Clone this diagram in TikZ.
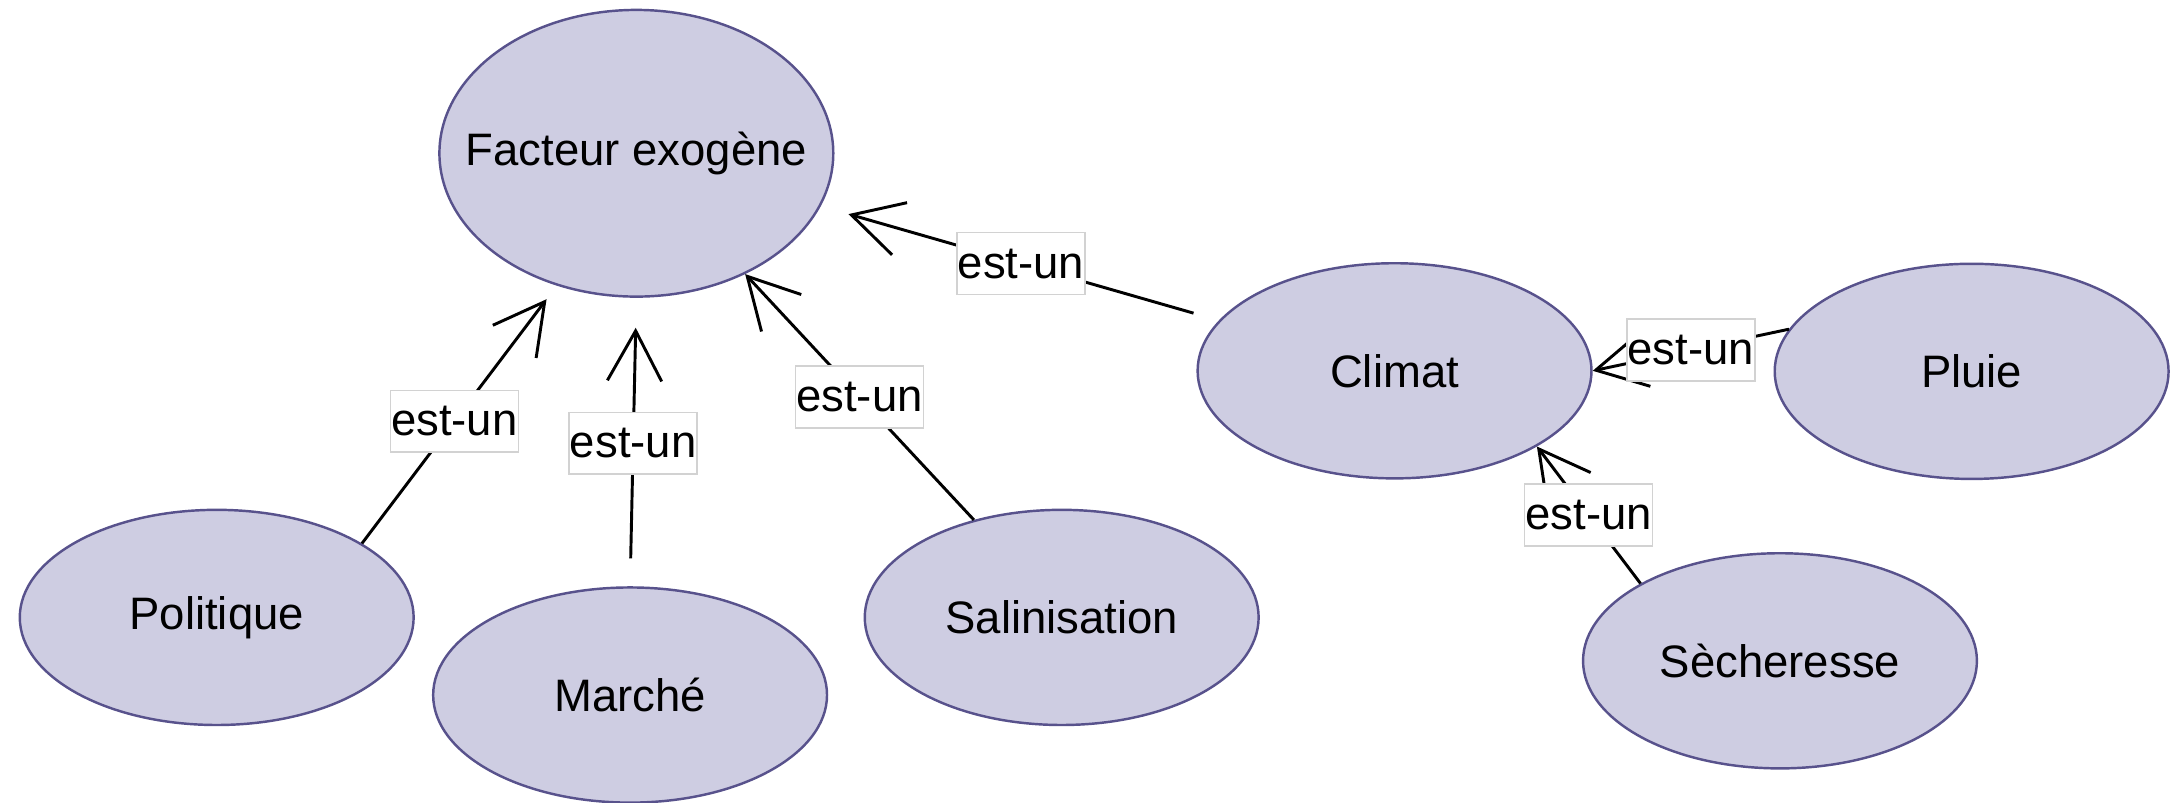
\documentclass[tikz,border=0pt]{standalone}
\usepackage{fontspec}
\setmainfont{Liberation Sans}
\usetikzlibrary{shapes.geometric,arrows.meta}

\definecolor{conceptfill}{RGB}{206,205,226}
\definecolor{conceptline}{RGB}{88,82,140}
\definecolor{labelline}{RGB}{210,210,210}

% concept name set in a zero-width box so the ellipse keeps its given size
\newcommand{\conceptname}[1]{\makebox[0pt][c]{#1}}

\begin{document}
\begin{tikzpicture}[x=0.01cm,y=-0.01cm,
  concept/.style={ellipse, draw=conceptline, fill=conceptfill, line width=0.5pt,
    minimum width=2.83cm, minimum height=1.546cm, inner sep=0pt,
    font=\fontsize{9.3}{11}\selectfont},
  isa/.style={draw=black, line width=0.6pt,
    -{Straight Barb[length=0.36cm, width=0.39cm]}},
  rel/.style={fill=white, draw=labelline, line width=0.3pt,
    minimum width=0.92cm, minimum height=0.444cm, inner sep=0pt,
    font=\fontsize{9.3}{11}\selectfont}
]
\useasboundingbox (0,0) rectangle (1568,577);

% concepts
\node[concept, minimum height=2.06cm] (fe) at (457.5,110.2) {\conceptname{Facteur exogène}};
\node[concept] (pol) at (155.8,443.9) {\conceptname{Politique}};
\node[concept] (mar) at (453,499.7) {\conceptname{Marché}};
\node[concept] (sal) at (763.3,443.9) {\conceptname{Salinisation}};
\node[concept] (cli) at (1002.6,266.6) {\conceptname{Climat}};
\node[concept] (plu) at (1417.5,267) {\conceptname{Pluie}};
\node[concept] (sec) at (1279.7,475.1) {\conceptname{Sècheresse}};

% is-a relations
\draw[isa, shorten >=0.122cm] (pol.27.8) -- node[rel, pos=0.474] {est-un} (fe.239.5);
\draw[isa, shorten <=0.20cm, shorten >=0.215cm] (mar.north) -- node[rel, pos=0.496] {est-un} (fe.south);
\draw[isa] (sal.132.2) -- node[rel] {est-un} (fe.312.7);
\draw[isa, shorten <=0.19cm, shorten >=0.207cm] (cli.164.7) -- node[rel, pos=0.497] {est-un} (fe.344.8);
\draw[isa] (plu.167.4) -- node[rel] {est-un} (cli.east);
\draw[isa] (sec.151.9) -- node[rel] {est-un} (cli.332);
\end{tikzpicture}
\end{document}
